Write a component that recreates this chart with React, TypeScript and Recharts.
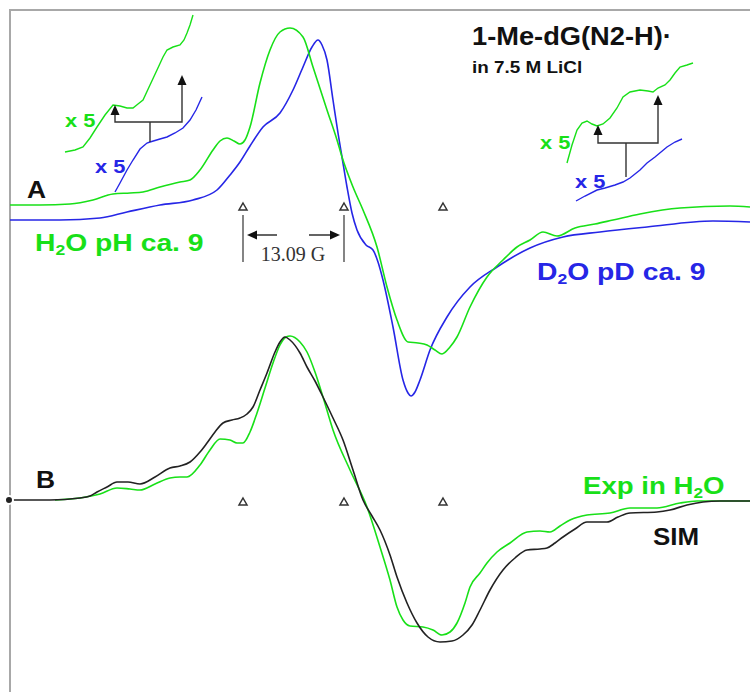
import React from 'react';
import { ComposedChart, Line, XAxis, YAxis, ReferenceDot } from 'recharts';

// field position (a.u.) vs. first-derivative signal (a.u.)
const h2oA: [number, number][] = [
  [10, 7], [40, 7], [70, 8], [93, 12], [113, 18], [130, 19], [143, 20], [160, 25], [180, 30],
  [190, 32], [200, 42], [213, 62], [220, 71], [227, 74], [234, 71], [240, 68], [245, 72],
  [250, 85], [260, 129], [270, 162], [280, 180], [290, 184], [303, 175], [313, 145],
  [327, 102], [337, 72], [342, 55], [353, 25], [363, 2], [377, -35], [387, -75], [397, -108],
  [408, -130], [418, -131], [427, -133], [435, -138], [442, -142], [450, -135], [457, -125],
  [470, -95], [487, -65], [503, -48], [517, -35], [530, -28], [543, -20], [557, -24],
  [575, -16], [595, -12], [613, -8], [640, -2], [680, 4], [730, 6], [750, 5],
];
const d2oA: [number, number][] = [
  [10, -8], [60, -8], [100, -6], [127, 0], [160, 7], [193, 12], [217, 22], [230, 37],
  [240, 50], [250, 66], [263, 85], [280, 99], [293, 122], [303, 145], [312, 165], [318, 172],
  [322, 167], [327, 152], [333, 112], [338, 79], [342, 55], [347, 25], [352, -1], [357, -18],
  [366, -33], [373, -38], [378, -50], [383, -68], [393, -115], [403, -168], [408, -181],
  [411, -184], [415, -180], [420, -168], [430, -138], [447, -105], [470, -75], [497, -55],
  [530, -36], [563, -25], [600, -20], [647, -15], [713, -9], [750, -10],
];
// x5 expansions of the wings
const h2oWingL: [number, number][] = [
  [65, -2], [75, 0], [83, 3], [90, 12], [97, 23], [105, 35], [113, 45], [120, 44], [127, 42],
  [133, 42], [138, 46], [143, 50], [150, 65], [157, 80], [163, 93], [167, 100], [173, 103],
  [180, 105], [184, 110], [187, 117], [190, 125], [193, 135],
];
const d2oWingL: [number, number][] = [
  [115, -42], [120, -33], [127, -20], [133, -10], [140, 1], [147, 7], [150, 8], [160, 11],
  [167, 13], [175, 17], [183, 22], [190, 30], [196, 40], [202, 53],
];
const h2oWingR: [number, number][] = [
  [567, 7], [572, 25], [577, 40], [582, 47], [587, 49], [592, 46], [597, 44], [603, 46],
  [610, 52], [617, 62], [623, 73], [630, 78], [640, 80], [648, 79], [653, 78], [658, 82],
  [665, 85], [670, 90], [675, 97], [680, 103], [687, 105], [693, 107],
];
const d2oWingR: [number, number][] = [
  [576, -31], [585, -26], [597, -20], [605, -18], [615, -15], [623, -12], [630, -8],
  [640, 0], [647, 7], [655, 13], [667, 23], [675, 28], [682, 31],
];
const simB: [number, number][] = [
  [9, 0], [50, 0], [80, 2], [90, 4], [97, 8], [107, 13], [117, 18], [128, 18], [140, 16],
  [155, 23], [170, 32], [180, 34], [190, 38], [200, 48], [207, 57], [215, 68], [223, 77],
  [232, 80], [240, 82], [247, 86], [253, 93], [260, 110], [267, 127], [275, 148], [280, 158],
  [285, 163], [290, 160], [300, 147], [307, 133], [315, 119], [323, 103], [333, 82],
  [343, 60], [353, 30], [363, 0], [372, -16], [380, -30], [390, -55], [397, -77],
  [407, -103], [417, -123], [428, -137], [440, -142], [452, -141], [463, -135], [472, -125],
  [480, -110], [490, -90], [503, -70], [515, -58], [527, -50], [540, -49], [547, -48],
  [555, -43], [563, -37], [575, -29], [587, -22], [607, -22], [618, -17], [630, -13],
  [657, -12], [670, -10], [687, -5], [703, -2], [720, -1], [750, -1],
];
const h2oB: [number, number][] = [
  [55, 0], [80, 2], [100, 6], [117, 12], [130, 11], [140, 10], [155, 16], [170, 22],
  [180, 23], [187, 23], [200, 35], [210, 50], [220, 61], [230, 60], [237, 57], [243, 57],
  [250, 68], [257, 87], [265, 112], [273, 137], [280, 155], [286, 163], [290, 164],
  [300, 158], [307, 148], [315, 128], [323, 103], [333, 70], [350, 30], [367, -7],
  [380, -47], [390, -80], [397, -107], [403, -120], [410, -126], [423, -127], [433, -130],
  [442, -135], [450, -132], [457, -123], [465, -103], [470, -87], [480, -73], [487, -63],
  [497, -52], [510, -43], [527, -32], [540, -31], [550, -32], [560, -26], [570, -20],
  [587, -15], [610, -13], [630, -8], [657, -8], [680, -3], [697, -1], [750, -1],
];
// stick-diagram markers (field positions)
const markerFields = [243, 344, 443];
// hyperfine brackets on the x5 wings
const bracketL = { x1: 115, x2: 182, stem: 150, bar: 28, tip1: 45, tip2: 75, foot: 8 };
const bracketR = { x1: 598, x2: 658, stem: 626, bar: 27, tip1: 45, tip2: 75, foot: -7 };

const W = 750;
const H = 692;
const BASE_A = 212;
const BASE_B = 500;
const BASE_WL = 150;
const BASE_WR = 170;

const GREEN = '#18e018';
const BLUE = '#2626e6';
const BLACK = '#222';

const toRows = (pts: [number, number][], base: number) =>
  pts.map(([x, a]) => ({ x, y: base - a }));

const bracketRows = (b: typeof bracketL, base: number) => [
  { x: b.x1, y: base - b.tip1 + 6 },
  { x: b.x1, y: base - b.bar },
  { x: b.x2, y: base - b.bar },
  { x: b.x2, y: base - b.tip2 + 6 },
];
const stemRows = (b: typeof bracketL, base: number) => [
  { x: b.stem, y: base - b.bar },
  { x: b.stem, y: base - b.foot },
];

const OpenTri = (p: any) => (
  <path
    d={`M${p.cx},${p.cy - 4} L${p.cx + 4},${p.cy + 3} L${p.cx - 4},${p.cy + 3} Z`}
    fill="#fff"
    stroke="#333"
    strokeWidth={1.5}
  />
);

const Head = (dir: 'up' | 'left' | 'right') => (p: any) => {
  const { cx, cy } = p;
  let d = '';
  if (dir === 'up') d = `M${cx},${cy} L${cx + 4.5},${cy + 10} L${cx - 4.5},${cy + 10} Z`;
  if (dir === 'left') d = `M${cx},${cy} L${cx + 10},${cy - 4.5} L${cx + 10},${cy + 4.5} Z`;
  if (dir === 'right') d = `M${cx},${cy} L${cx - 10},${cy - 4.5} L${cx - 10},${cy + 4.5} Z`;
  return <path d={d} fill="#111" stroke="none" />;
};

const sans = "'Liberation Sans', Arial, sans-serif";

function Txt({ x, y, size, color, children, bold = true, serif = false, center = false, sx = 1 }: any) {
  return (
    <div
      style={{
        position: 'absolute',
        left: x,
        top: y - size / 2,
        fontSize: size,
        lineHeight: `${size}px`,
        fontFamily: serif ? "'Liberation Serif', 'Times New Roman', serif" : sans,
        fontWeight: bold ? 700 : 400,
        color,
        whiteSpace: 'nowrap',
        transformOrigin: center ? 'center center' : 'left center',
        transform: center ? `translateX(-50%) scaleX(${sx})` : `scaleX(${sx})`,
      }}
    >
      {children}
    </div>
  );
}

const sub = (t: string) => <sub style={{ fontSize: '0.62em', verticalAlign: '-0.25em' }}>{t}</sub>;

export default function App() {
  const line = (rows: any[], color: string, key: string, type: any = 'monotone', w = 1.6) => (
    <Line
      key={key}
      data={rows}
      dataKey="y"
      type={type}
      stroke={color}
      strokeWidth={w}
      dot={false}
      isAnimationActive={false}
      legendType="none"
    />
  );

  const scaleY = BASE_A + 23;
  const barRows1 = [{ x: 243, y: BASE_A + 3 }, { x: 243, y: BASE_A + 50 }];
  const barRows2 = [{ x: 344, y: BASE_A + 3 }, { x: 344, y: BASE_A + 50 }];
  const arrowL = [{ x: 277, y: scaleY }, { x: 250, y: scaleY }];
  const arrowR = [{ x: 309, y: scaleY }, { x: 336, y: scaleY }];

  return (
    <div style={{ position: 'absolute', left: 0, top: 0, width: W, height: H, background: '#fff', overflow: 'hidden' }}>
      <div
        style={{
          position: 'absolute',
          left: 9,
          top: 9,
          width: W,
          height: H,
          borderTop: '2px solid #a8a8a8',
          borderLeft: '2px solid #a8a8a8',
        }}
      />
      <ComposedChart width={W} height={H} margin={{ top: 0, right: 0, bottom: 0, left: 0 }}>
        <XAxis type="number" dataKey="x" domain={[0, W]} hide allowDataOverflow />
        <YAxis type="number" domain={[0, H]} reversed hide allowDataOverflow />
        {line(toRows(d2oA, BASE_A), BLUE, 'd2oA')}
        {line(toRows(h2oA, BASE_A), GREEN, 'h2oA')}
        {line(toRows(h2oWingL, BASE_WL), GREEN, 'h2oWL', 'linear', 1.4)}
        {line(toRows(d2oWingL, BASE_WL), BLUE, 'd2oWL', 'linear', 1.4)}
        {line(toRows(h2oWingR, BASE_WR), GREEN, 'h2oWR', 'linear', 1.4)}
        {line(toRows(d2oWingR, BASE_WR), BLUE, 'd2oWR', 'linear', 1.4)}
        {line(toRows(h2oB, BASE_B), GREEN, 'h2oB')}
        {line(toRows(simB, BASE_B), BLACK, 'simB')}
        {line(bracketRows(bracketL, BASE_WL), '#333', 'brL', 'linear', 1.4)}
        {line(stemRows(bracketL, BASE_WL), '#333', 'stL', 'linear', 1.4)}
        {line(bracketRows(bracketR, BASE_WR), '#333', 'brR', 'linear', 1.4)}
        {line(stemRows(bracketR, BASE_WR), '#333', 'stR', 'linear', 1.4)}
        {line(barRows1, '#333', 'bar1', 'linear', 1.2)}
        {line(barRows2, '#333', 'bar2', 'linear', 1.2)}
        {line(arrowL, '#222', 'arL', 'linear', 1.4)}
        {line(arrowR, '#222', 'arR', 'linear', 1.4)}
        <ReferenceDot x={bracketL.x1} y={BASE_WL - bracketL.tip1} r={0} shape={Head('up')} ifOverflow="visible" />
        <ReferenceDot x={bracketL.x2} y={BASE_WL - bracketL.tip2} r={0} shape={Head('up')} ifOverflow="visible" />
        <ReferenceDot x={bracketR.x1} y={BASE_WR - bracketR.tip1} r={0} shape={Head('up')} ifOverflow="visible" />
        <ReferenceDot x={bracketR.x2} y={BASE_WR - bracketR.tip2} r={0} shape={Head('up')} ifOverflow="visible" />
        <ReferenceDot x={247} y={scaleY} r={0} shape={Head('left')} ifOverflow="visible" />
        <ReferenceDot x={340} y={scaleY} r={0} shape={Head('right')} ifOverflow="visible" />
        {markerFields.map((f) => (
          <ReferenceDot key={`ma${f}`} x={f} y={BASE_A - 5} r={0} shape={OpenTri} ifOverflow="visible" />
        ))}
        {markerFields.map((f) => (
          <ReferenceDot key={`mb${f}`} x={f} y={BASE_B + 2} r={0} shape={OpenTri} ifOverflow="visible" />
        ))}
      </ComposedChart>

      <Txt x={472} y={36} size={25} color="#111" sx={1.09}>1-Me-dG(N2-H)·</Txt>
      <Txt x={472} y={68} size={16} color="#111" sx={1.18}>in 7.5 M LiCl</Txt>
      <Txt x={27} y={190} size={24} color="#111" sx={1.1}>A</Txt>
      <Txt x={36} y={480} size={24} color="#111" sx={1.1}>B</Txt>
      <Txt x={65} y={120} size={19} color={GREEN} sx={1.15}>x 5</Txt>
      <Txt x={95} y={166} size={19} color={BLUE} sx={1.15}>x 5</Txt>
      <Txt x={540} y={142} size={19} color={GREEN} sx={1.15}>x 5</Txt>
      <Txt x={575} y={181} size={19} color={BLUE} sx={1.15}>x 5</Txt>
      <Txt x={35} y={243} size={23} color={GREEN} sx={1.23}>H{sub('2')}O pH ca. 9</Txt>
      <Txt x={537} y={272} size={23} color={BLUE} sx={1.23}>D{sub('2')}O pD ca. 9</Txt>
      <Txt x={583} y={486} size={23} color={GREEN} sx={1.2}>Exp in H{sub('2')}O</Txt>
      <Txt x={653} y={537} size={24} color="#111" sx={1.08}>SIM</Txt>
      <Txt x={293} y={254} size={20} color="#333" bold={false} serif center>13.09 G</Txt>
    </div>
  );
}
